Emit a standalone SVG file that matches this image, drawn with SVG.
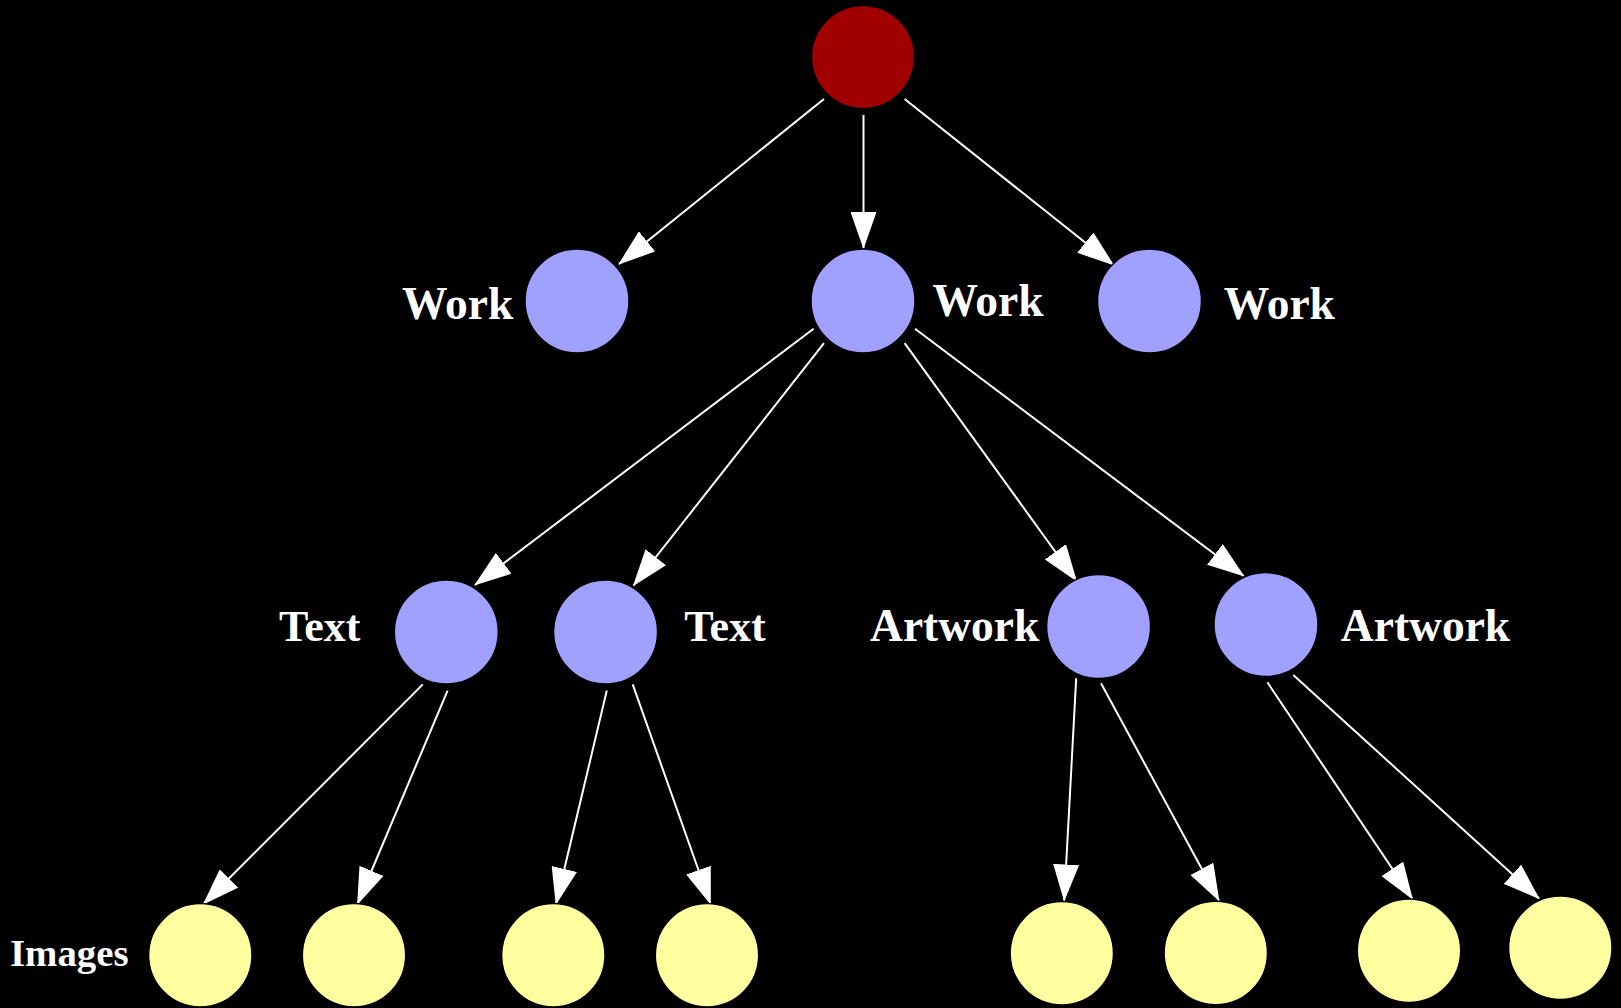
<svg xmlns="http://www.w3.org/2000/svg" width="1621" height="1008" viewBox="0 0 1621 1008">
<style>
.e{stroke:#ffffff;stroke-width:2;fill:none;marker-end:url(#ah)}
.root{fill:#a00000;stroke:#000;stroke-width:1.5}
.mid{fill:#a0a0ff;stroke:#000;stroke-width:1.5}
.leaf{fill:#ffff9f;stroke:#000;stroke-width:1.5}
.lbl{font-family:"Liberation Serif","Times New Roman",serif;font-weight:bold;font-size:45.5px;fill:#ffffff;text-anchor:middle}
.tx{font-size:44px}
.sm{font-size:38.8px}
</style>
<defs>
<marker id="ah" markerUnits="userSpaceOnUse" viewBox="0 0 37 26" markerWidth="37" markerHeight="26" refX="36" refY="13" orient="auto">
<path d="M0,0 L37,13 L0,26 z" fill="#ffffff"/>
</marker>
</defs>
<rect x="0" y="0" width="1621" height="1008" fill="#000000"/>
<g id="connectors">
<line class="e" x1="824" y1="99" x2="619" y2="264"/>
<line class="e" x1="863.5" y1="115" x2="863.5" y2="248"/>
<line class="e" x1="904.6" y1="99" x2="1113.5" y2="265"/>
<line class="e" x1="813.6" y1="328.7" x2="475" y2="585"/>
<line class="e" x1="824" y1="343.2" x2="633.5" y2="585.5"/>
<line class="e" x1="904.6" y1="343.2" x2="1076.5" y2="581"/>
<line class="e" x1="915" y1="328.7" x2="1243.7" y2="576"/>
<line class="e" x1="422.8" y1="684.4" x2="203.5" y2="904"/>
<line class="e" x1="447.6" y1="690.6" x2="357.5" y2="904"/>
<line class="e" x1="606.8" y1="690.6" x2="556" y2="904"/>
<line class="e" x1="632.7" y1="684.4" x2="710.5" y2="904"/>
<line class="e" x1="1076.2" y1="678.2" x2="1064.2" y2="900.5"/>
<line class="e" x1="1101" y1="683.3" x2="1219" y2="900.5"/>
<line class="e" x1="1267.4" y1="682.3" x2="1412.4" y2="898.8"/>
<line class="e" x1="1293.3" y1="675" x2="1539" y2="898.5"/>
</g>
<g id="root"><circle class="root" cx="863" cy="57" r="51.5"/></g>
<g id="work1"><circle class="mid" cx="577" cy="301" r="52"/><text class="lbl" x="457.7" y="319.3">Work</text></g>
<g id="work2"><circle class="mid" cx="863" cy="301" r="52"/><text class="lbl" x="988" y="316">Work</text></g>
<g id="work3"><circle class="mid" cx="1149.5" cy="301" r="52"/><text class="lbl" x="1279.3" y="319.3">Work</text></g>
<g id="text1"><circle class="mid" cx="446.3" cy="632" r="52"/><text class="lbl tx" x="319.7" y="641">Text</text></g>
<g id="text2"><circle class="mid" cx="605.6" cy="632" r="52"/><text class="lbl tx" x="725" y="641">Text</text></g>
<g id="artwork1"><circle class="mid" cx="1098.6" cy="626.6" r="52"/><text class="lbl" x="954.7" y="641">Artwork</text></g>
<g id="artwork2"><circle class="mid" cx="1266" cy="624.6" r="52"/><text class="lbl" x="1425.5" y="641">Artwork</text></g>
<g id="images-label"><text class="lbl sm" x="69.3" y="966">Images</text></g>
<g id="img1"><circle class="leaf" cx="200.3" cy="955.2" r="51.7"/></g>
<g id="img2"><circle class="leaf" cx="354" cy="955.2" r="51.7"/></g>
<g id="img3"><circle class="leaf" cx="553.3" cy="955.2" r="51.7"/></g>
<g id="img4"><circle class="leaf" cx="707" cy="955.2" r="51.7"/></g>
<g id="img5"><circle class="leaf" cx="1061.8" cy="953.2" r="51.7"/></g>
<g id="img6"><circle class="leaf" cx="1215.8" cy="953" r="51.7"/></g>
<g id="img7"><circle class="leaf" cx="1409" cy="950.7" r="51.7"/></g>
<g id="img8"><circle class="leaf" cx="1560.3" cy="947.8" r="51.7"/></g>
</svg>
